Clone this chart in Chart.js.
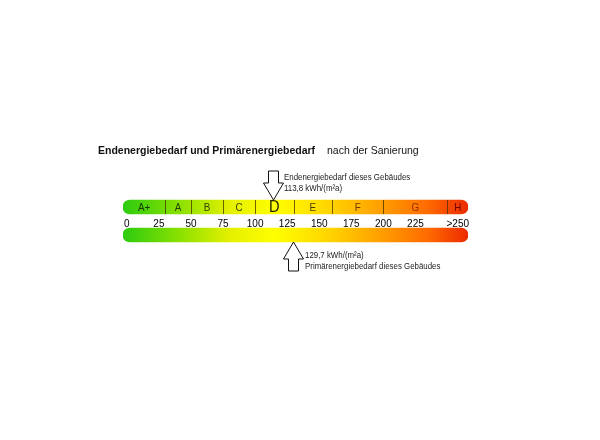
<!DOCTYPE html>
<html>
<head>
<meta charset="utf-8">
<script src="https://cdn.jsdelivr.net/npm/chart.js@4.4.0/dist/chart.umd.min.js"></script>
<style>
body{margin:0;background:#fff}
#wrap{width:600px;height:440px}
</style>
</head>
<body>
<div id="wrap"><canvas id="myChart"></canvas></div>
<script>
// data
var rows = ['Endenergiebedarf', 'Primärenergiebedarf'];
var barRange = [[-3, 266], [-3, 266]];
var classNames = ['A+', 'A', 'B', 'C', 'D', 'E', 'F', 'G', 'H'];
var classBounds = [-3, 30, 50, 75, 100, 130, 160, 200, 250, 266];
var classColors = ['#163a00', '#1f3e00', '#2e4200', '#3c4200', '#222200', '#4a3a00', '#703a00', '#923000', '#700600'];
var tickValues = [0, 25, 50, 75, 100, 125, 150, 175, 200, 225, 258];
var tickLabels = ['0', '25', '50', '75', '100', '125', '150', '175', '200', '225', '>250'];
var endValue = 113.8;
var primValue = 129.7;
var endText = ['Endenergiebedarf dieses Gebäudes', '113,8 kWh/(m²a)'];
var primText = ['129,7 kWh/(m²a)', 'Primärenergiebedarf dieses Gebäudes'];
var titleBold = 'Endenergiebedarf und Primärenergiebedarf';
var titleNormal = 'nach der Sanierung';

var FONT = '"Liberation Sans", Arial, sans-serif';

// colour stops along the scale (value, colour)
var gradStops = [[-3, '#2ccb10'], [40, '#88e000'], [80, '#e4f000'], [115, '#ffff00'], [160, '#ffd200'], [200, '#ff9c00'], [235, '#ff6a00'], [266, '#ec2a00']];

function barGradient(c)
{
    var chart = c.chart;
    if (!chart.chartArea) return '#ffff00';
    var x = chart.scales.x;
    var x0 = x.getPixelForValue(gradStops[0][0]);
    var x1 = x.getPixelForValue(gradStops[gradStops.length - 1][0]);
    var g = chart.ctx.createLinearGradient(x0, 0, x1, 0);
    for (var i = 0; i < gradStops.length; i++)
    {
        g.addColorStop((x.getPixelForValue(gradStops[i][0]) - x0) / (x1 - x0), gradStops[i][1]);
    }
    return g;
}

function drawArrow(ctx, px, tip, dir)
{
    // dir = 1 pointing down, -1 pointing up
    var pts = [[-5, -29], [5, -29], [5, -17], [10, -17], [0, 0], [-10, -17], [-5, -17]];
    ctx.beginPath();
    for (var i = 0; i < pts.length; i++)
    {
        var xx = px + pts[i][0] + 0.5;
        var yy = tip + pts[i][1] * dir;
        if (i == 0) ctx.moveTo(xx, yy); else ctx.lineTo(xx, yy);
    }
    ctx.closePath();
    ctx.fillStyle = '#fff';
    ctx.fill();
    ctx.strokeStyle = '#111';
    ctx.lineWidth = 1;
    ctx.stroke();
}

// the source picture is squeezed a little sideways
function narrowText(ctx, s, x, y, sx)
{
    ctx.save();
    ctx.translate(x, y);
    ctx.scale(sx, 1);
    ctx.fillText(s, 0, 0);
    ctx.restore();
}

var overlay = {
    id: 'overlay',
    afterDatasetsDraw: function(chart)
    {
        var ctx = chart.ctx;
        var x = chart.scales.x;
        var meta = chart.getDatasetMeta(0);
        var top = meta.data[0], bot = meta.data[1];
        var tTop = top.y - top.height / 2, tBot = top.y + top.height / 2;
        ctx.save();

        // class dividers
        ctx.strokeStyle = 'rgba(70,50,0,0.75)';
        ctx.lineWidth = 1;
        for (var i = 1; i < classBounds.length - 1; i++)
        {
            var px = Math.round(x.getPixelForValue(classBounds[i])) + 0.5;
            ctx.beginPath();
            ctx.moveTo(px, tTop);
            ctx.lineTo(px, tBot);
            ctx.stroke();
        }

        // class letters
        ctx.textAlign = 'center';
        ctx.textBaseline = 'middle';
        for (var i = 0; i < classNames.length; i++)
        {
            var cx = (x.getPixelForValue(classBounds[i]) + x.getPixelForValue(classBounds[i + 1])) / 2;
            var big = classNames[i] == 'D';
            ctx.font = (big ? '17px ' : '11.5px ') + FONT;
            ctx.fillStyle = classColors[i];
            narrowText(ctx, classNames[i], cx, top.y + (big ? 0 : 0.5), 0.86);
        }

        // arrows
        var pe = Math.round(x.getPixelForValue(endValue));
        var pp = Math.round(x.getPixelForValue(primValue));
        var bBot = bot.y + bot.height / 2;
        drawArrow(ctx, pe, tTop, 1);
        drawArrow(ctx, pp, bBot, -1);

        ctx.font = '9.5px ' + FONT;
        ctx.fillStyle = '#222';
        ctx.textAlign = 'left';
        narrowText(ctx, endText[0], pe + 11, tTop - 23, 0.83);
        narrowText(ctx, endText[1], pe + 11, tTop - 12, 0.83);
        narrowText(ctx, primText[0], pp + 12, bBot + 13, 0.83);
        narrowText(ctx, primText[1], pp + 12, bBot + 24, 0.83);

        // title
        ctx.fillStyle = '#111';
        ctx.font = 'bold 10.5px ' + FONT;
        ctx.fillText(titleBold, 98, 151);
        ctx.font = '10.5px ' + FONT;
        ctx.fillText(titleNormal, 327, 151);
        ctx.restore();
    }
};

var canvas = document.getElementById('myChart');
var myChart = new Chart(canvas.getContext('2d'),
{
    type: 'bar',
    data:
    {
        labels: rows,
        datasets:
        [{
            data: barRange,
            backgroundColor: barGradient,
            borderWidth: 0,
            borderRadius: 7,
            borderSkipped: false,
            barThickness: 14
        }]
    },
    options:
    {
        indexAxis: 'y',
        responsive: true,
        maintainAspectRatio: false,
        animation: false,
        layout: {padding: {left: 123, right: 132, top: 193, bottom: 191}},
        plugins: {legend: {display: false}, tooltip: {enabled: false}, title: {display: false}},
        scales:
        {
            y: {type: 'category', display: false},
            x:
            {
                type: 'linear',
                position: {y: 0.5},
                z: 1,
                min: -3,
                max: 266,
                grid: {display: false},
                border: {display: false},
                afterBuildTicks: function(scale)
                {
                    scale.ticks = tickValues.map(function(v) { return {value: v}; });
                },
                ticks:
                {
                    autoSkip: false,
                    maxRotation: 0,
                    padding: -11,
                    color: '#000',
                    font: {family: FONT, size: 10},
                    callback: function(v, i) { return tickLabels[i]; }
                }
            }
        }
    },
    plugins: [overlay]
});
</script>
</body>
</html>
